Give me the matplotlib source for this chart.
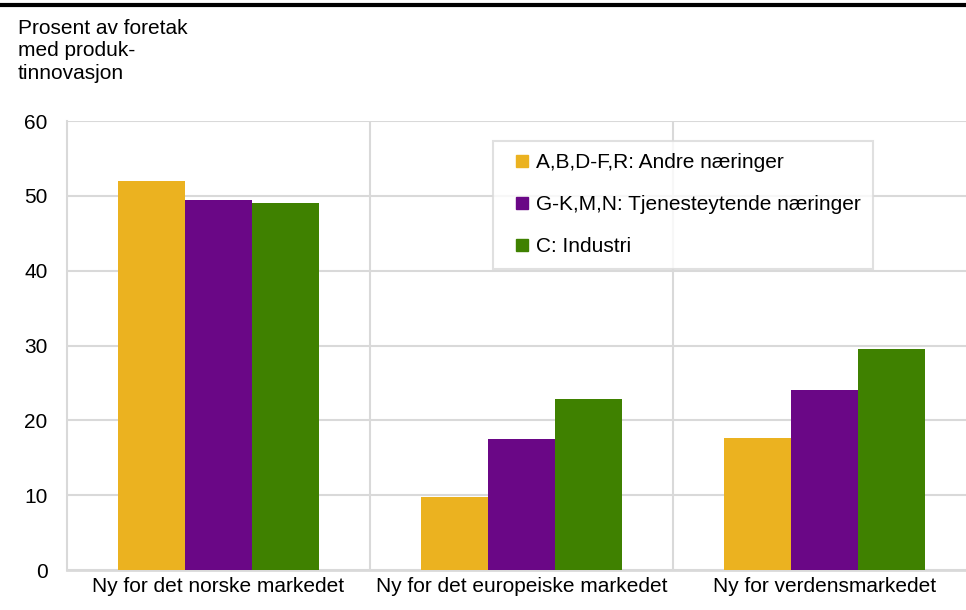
import numpy as np
import matplotlib.pyplot as plt
from matplotlib.lines import Line2D

plt.rcParams['font.family'] = ['Liberation Sans', 'DejaVu Sans']

# Data ======================================================
categories = ['Ny for det norske markedet', 'Ny for det europeiske markedet',
              'Ny for verdensmarkedet']
series = ['A,B,D-F,R: Andre næringer', 'G-K,M,N: Tjenesteytende næringer',
          'C: Industri']
andre = [52.0, 9.8, 17.7]
tjeneste = [49.5, 17.5, 24.1]
industri = [49.1, 22.8, 29.5]
colors = ['#EBB220', '#6A0786', '#3F8100']

# Plot ======================================================
fig = plt.figure(figsize=(9.66, 6.10), dpi=100)
ax = fig.add_axes([67/966, 40/610, 909/966, 449/610])

x = np.arange(len(categories))
w = 0.222
for i, vals in enumerate([andre, tjeneste, industri]):
    ax.bar(x + (i - 1) * w, vals, width=w, color=colors[i], zorder=3)

ax.set_xlim(-0.5, 2.5)
ax.set_ylim(0, 60)
ax.set_yticks(range(0, 61, 10))
ax.set_xticks(x)
ax.set_xticklabels(categories, fontsize=15)
ax.tick_params(axis='y', labelsize=15, length=0, pad=14)
ax.tick_params(axis='x', length=0, pad=5)

ax.grid(axis='y', color='#d9d9d9', linewidth=1.5, zorder=0)
for b in [0.5, 1.5]:
    ax.axvline(b, color='#d9d9d9', linewidth=1.5, zorder=0)
for s in ['top', 'right']:
    ax.spines[s].set_visible(False)
ax.spines['left'].set_color('#d9d9d9')
ax.spines['left'].set_linewidth(1.5)
ax.spines['bottom'].set_color('#d9d9d9')
ax.spines['bottom'].set_linewidth(2)

handles = [Line2D([], [], marker='s', linestyle='none', markersize=8,
                  color=c) for c in colors]
leg = ax.legend(handles, series, loc='upper left',
                bbox_to_anchor=(426/909, 1 - 20/449), fontsize=15,
                frameon=True, fancybox=False, handletextpad=-0.1,
                labelspacing=1.1, borderpad=0.6, handlelength=1.55,
                borderaxespad=0)
leg.get_frame().set_edgecolor('#d9d9d9')
leg.get_frame().set_linewidth(1.5)

# top black rule and title
fig.add_artist(Line2D([0, 1], [1 - 5/610, 1 - 5/610], color='black',
                      linewidth=3, transform=fig.transFigure))
fig.text(18/966, 1 - 19/610, 'Prosent av foretak\nmed produk-\ntinnovasjon',
         fontsize=15, va='top', ha='left', linespacing=1.22)

fig.savefig('out.png', dpi=100)
